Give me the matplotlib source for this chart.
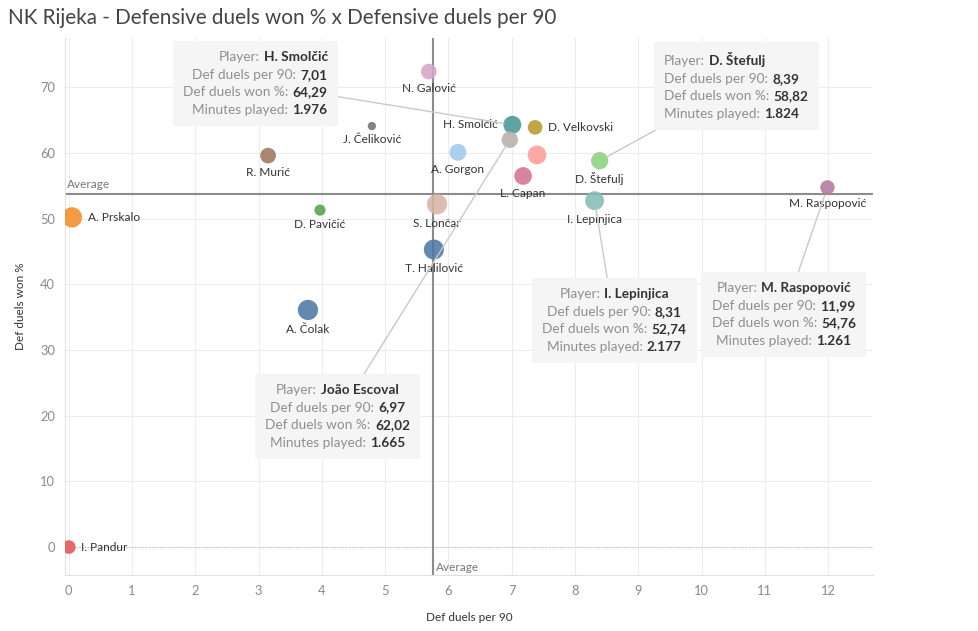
import matplotlib
matplotlib.use("Agg")
import matplotlib.pyplot as plt
from matplotlib.offsetbox import TextArea, HPacker, VPacker, AnnotationBbox

plt.rcParams['font.family'] = ['Lato', 'DejaVu Sans']

# data
players = ["A. Prskalo", "I. Pandur", "R. Murić", "D. Pavičić", "A. Čolak", "J. Čeliković",
           "N. Galović", "S. Lončar", "T. Halilović", "A. Gorgon", "H. Smolčić", "João Escoval",
           "D. Velkovski", "(unlabelled)", "L. Capan", "D. Štefulj", "I. Lepinjica", "M. Raspopović"]
def_duels_p90 = [0.05, 0.0, 3.15, 3.97, 3.78, 4.79, 5.69, 5.82, 5.77, 6.15, 7.01, 6.97,
                 7.37, 7.40, 7.18, 8.39, 8.31, 11.99]
def_duels_won = [50.2, 0.0, 59.6, 51.3, 36.1, 64.1, 72.4, 52.2, 45.3, 60.1, 64.29, 62.02,
                 63.9, 59.7, 56.5, 58.82, 52.74, 54.76]
minutes = [2500, 1150, 1500, 760, 2500, 420, 1500, 2500, 2450, 1740, 1976, 1665,
           1300, 2150, 1900, 1824, 2177, 1261]
colors = ["#f28e2b", "#e15759", "#9d7660", "#59a14f", "#4e79a7", "#79706e",
          "#d4a6c8", "#d7b5a6", "#4e79a7", "#a0cbe8", "#499894", "#bab0ac",
          "#b6992d", "#ff9d9a", "#d37295", "#8cd17d", "#86bcb6", "#b07aa1"]
label_pos = ["right", "right", "below", "below", "below", "below",
             "below", "below", "below", "below", "left", "none",
             "right", "none", "below", "below", "below", "below"]

avg_p90 = 5.76
avg_won = 53.7

x_ticks = list(range(0, 13))
y_ticks = list(range(0, 80, 10))

# tooltip boxes: player, box centre (data), text alignment
tooltips = [("H. Smolčić", (2.95, 70.6), "right"),
            ("D. Štefulj", (10.55, 70.2), "left"),
            ("I. Lepinjica", (8.62, 34.5), "center"),
            ("M. Raspopović", (11.30, 35.4), "center"),
            ("João Escoval", (4.25, 19.9), "center")]


def fmt_dec(v):
    return f"{v:.2f}".replace(".", ",")


def fmt_min(m):
    return f"{m:,}".replace(",", ".")


fig = plt.figure(figsize=(9.79, 6.31), dpi=100)
ax = fig.add_axes([0.0664, 0.0887, 0.8253, 0.851])

sizes = [m * 0.085 for m in minutes]
ax.scatter(def_duels_p90, def_duels_won, s=sizes, c=colors, alpha=0.88,
           edgecolors="none", zorder=3)

for name, x, y, s, pos in zip(players, def_duels_p90, def_duels_won, sizes, label_pos):
    r = s ** 0.5 / 2
    if pos == "below":
        ax.annotate(name, (x, y), xytext=(0, -(r + 6.5)), textcoords="offset points",
                    ha="center", va="center", fontsize=8.6, color="#333333", zorder=4)
    elif pos == "right":
        ax.annotate(name, (x, y), xytext=(r + 4, 0), textcoords="offset points",
                    ha="left", va="center", fontsize=8.6, color="#333333", zorder=4)
    elif pos == "left":
        ax.annotate(name, (x, y), xytext=(-(r + 4), 0), textcoords="offset points",
                    ha="right", va="center", fontsize=8.6, color="#333333", zorder=4)

# reference lines
ax.axvline(avg_p90, color="#8c8c8c", lw=1.5, zorder=2)
ax.axhline(avg_won, color="#8c8c8c", lw=1.5, zorder=2)
ax.axhline(0, color="#bdbdbd", lw=0.8, ls=(0, (1, 1.5)), zorder=1)
ax.text(-0.03, avg_won + 0.6, "Average", fontsize=8.5, color="#777777", va="bottom", ha="left")
ax.text(avg_p90 + 0.05, -3.9, "Average", fontsize=8.5, color="#777777", va="bottom", ha="left")

# tooltips
lab_props = dict(color="#8f8f8f", size=9.8)
val_props = dict(color="#333333", size=9.8, weight="bold")
for name, centre, align in tooltips:
    i = players.index(name)
    rows = [("Player:", name),
            ("Def duels per 90:", fmt_dec(def_duels_p90[i])),
            ("Def duels won %:", fmt_dec(def_duels_won[i])),
            ("Minutes played:", fmt_min(minutes[i]))]
    lines = [HPacker(children=[TextArea(lbl, textprops=lab_props),
                               TextArea(val, textprops=val_props)], pad=0, sep=3)
             for lbl, val in rows]
    box = VPacker(children=lines, align=align, pad=0, sep=4)
    ab = AnnotationBbox(box, (def_duels_p90[i], def_duels_won[i]), xybox=centre,
                        xycoords="data", boxcoords="data", box_alignment=(0.5, 0.5),
                        pad=0.7, frameon=True,
                        bboxprops=dict(facecolor="#f5f5f5", edgecolor="none", boxstyle="square,pad=0.75"),
                        arrowprops=dict(arrowstyle="-", color="#c9c9c9", lw=1,
                                        shrinkA=0, shrinkB=6))
    ab.set_zorder(5)
    ax.add_artist(ab)

ax.set_xlim(-0.06, 12.71)
ax.set_ylim(-4.26, 77.5)
ax.set_xticks(x_ticks)
ax.set_yticks(y_ticks)
ax.grid(True, color="#ededed", lw=0.8, zorder=0)
ax.set_axisbelow(True)
ax.tick_params(length=0, labelsize=9.3, labelcolor="#8a8a8a", pad=7)
for side in ["top", "right"]:
    ax.spines[side].set_visible(False)
for side in ["left", "bottom"]:
    ax.spines[side].set_color("#e0e0e0")

ax.set_xlabel("Def duels per 90", fontsize=8.5, color="#333333", labelpad=11)
ax.set_ylabel("Def duels won %", fontsize=8.5, color="#333333", labelpad=10)

fig.text(0.008, 0.972, "NK Rijeka - Defensive duels won % x Defensive duels per 90",
         fontsize=14.9, color="#444444", va="center", ha="left")

fig.savefig("out.png", dpi=100)
